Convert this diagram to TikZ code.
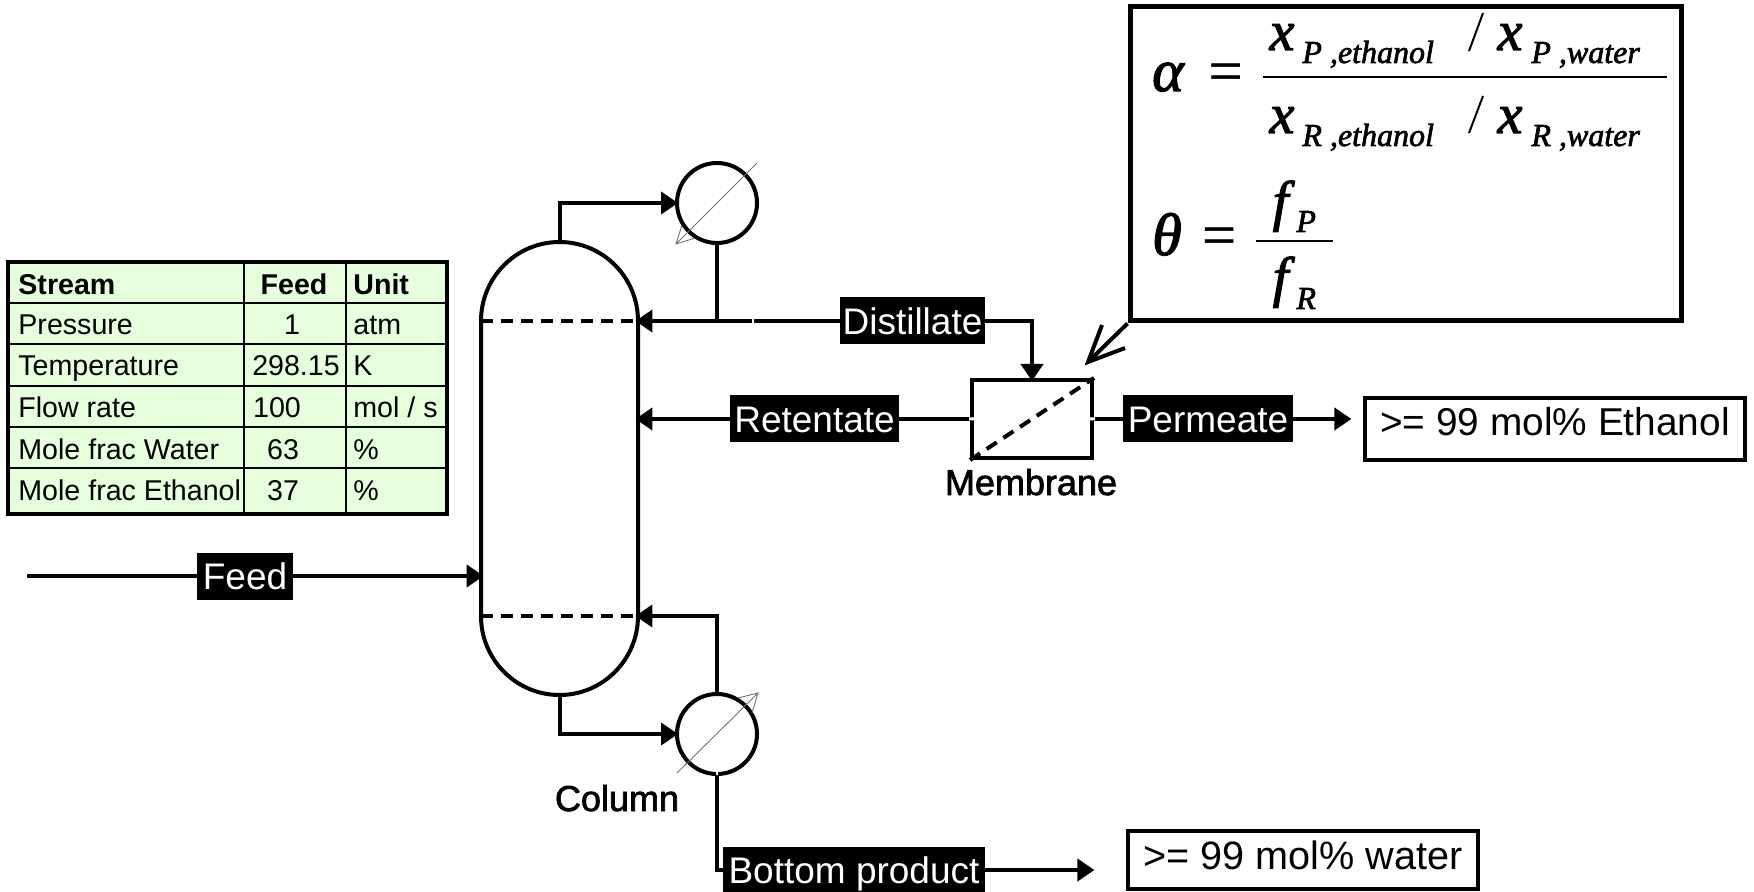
\documentclass[tikz,border=0pt]{standalone}
\usepackage{fontspec}
\setmainfont{Liberation Sans}
\newfontfamily\fbold[FakeBold=2]{Liberation Sans}
\newfontfamily\serifit[ItalicFeatures={FakeBold=2}]{Liberation Serif}
\newfontfamily\serifrm[FakeBold=1]{Liberation Serif}
\usetikzlibrary{arrows.meta,calc}
\definecolor{tablegreen}{HTML}{E6FFDC}
\tikzset{
  pline/.style={line width=2pt,line join=miter},
  flow/.style={pline,shorten >=-1.5pt,-{Triangle[length=8.5pt,width=11pt]}},
  stream/.style={fill=black,text=white,inner sep=0pt,minimum height=23.5pt,text height=18.5pt,text depth=5pt,font=\fontsize{18.5pt}{20pt}\selectfont},
  cell/.style={anchor=base west,inner sep=0pt,font=\fontsize{14.3pt}{17pt}\selectfont},
  cellc/.style={anchor=base,inner sep=0pt,font=\fontsize{14.3pt}{17pt}\selectfont},
  headcell/.style={font=\bfseries\fontsize{14.3pt}{17pt}\selectfont},
  hx/.style={circle,draw,line width=2pt,minimum size=40pt,inner sep=0pt},
  hxline/.style={line width=.45pt,draw=black!55},
  caption/.style={inner sep=0pt,anchor=base,font=\fbold\fontsize{18pt}{20pt}\selectfont},
  prodbox/.style={draw,line width=2pt,fill=white,inner sep=0pt},
  big/.style={anchor=base,inner sep=0pt,font=\serifit\itshape\fontsize{28pt}{31pt}\selectfont},
  subs/.style={anchor=base west,inner sep=0pt,font=\serifit\itshape\fontsize{16pt}{18pt}\selectfont},
  symb/.style={anchor=base,inner sep=0pt,font=\serifrm\fontsize{30pt}{32pt}\selectfont},
  fracbar/.style={line width=.8pt},
}
\begin{document}
\begin{tikzpicture}[x=.5pt,y=-.5pt]
\useasboundingbox (0,0) rectangle (1754,892);
% data table
\draw[fill=tablegreen,draw=none] (8,262) rectangle (447,514);
\draw[line width=1pt] (244,262)--(244,514) (346,262)--(346,514)
  (8,303)--(447,303) (8,344)--(447,344) (8,386)--(447,386) (8,427)--(447,427) (8,468)--(447,468);
\draw[line width=2pt] (8,262) rectangle (447,514);
\node[cell,headcell] (h1) at (18,295) {Stream};
\node[cellc,headcell] (h2) at (294,295) {Feed};
\node[cell,headcell] (h3) at (353,295) {Unit};
\node[cell] (a1) at (18,335) {Pressure};
\node[cellc] (a2) at (292,335) {1};
\node[cell] (a3) at (353,335) {atm};
\node[cell] (b1) at (18,376) {Temperature};
\node[cellc] (b2) at (296,376) {298.15};
\node[cell] (b3) at (353,376) {K};
\node[cell] (c1) at (18,418) {Flow rate};
\node[cellc] (c2) at (277,418) {100};
\node[cell] (c3) at (353,418) {mol / s};
\node[cell] (d1) at (18,459) {Mole frac Water};
\node[cellc] (d2) at (283,459) {63};
\node[cell] (d3) at (353,459) {\%};
\node[cell] (e1) at (18,500) {Mole frac Ethanol};
\node[cellc] (e2) at (283,500) {37};
\node[cell] (e3) at (353,500) {\%};
% column
\node[inner sep=0pt,minimum width=78.5pt,minimum height=226.5pt] (col) at (559.5,468.5) {};
\draw[pline] (481,321) arc[start angle=180,end angle=0,x radius=78.5,y radius=-79] -- (638,616)
  arc[start angle=0,end angle=-180,x radius=78.5,y radius=-79] -- cycle;
\draw[pline,dash pattern=on 6pt off 4pt] (481,321) -- (638,321);
\draw[pline,dash pattern=on 6pt off 4pt] (481,616) -- (638,616);
\node[caption] (collab) at (617,811) {Column};
% heat exchangers
\node[hx] (cond) at (717,203) {};
\node[hx] (reb) at (717,734) {};
\draw[hxline] (676,244) -- (757,163) (682,225) -- (676,244) -- (695,238);
\draw[hxline] (677,773) -- (758,693) (738,698) -- (758,693) -- (752,713);
% membrane
\node[draw,line width=2pt,inner sep=0pt,minimum width=60pt,minimum height=39pt] (mem) at (1032,419) {};
\draw[pline,dash pattern=on 6pt off 4pt] (mem.south west) -- (mem.north east);
\node[caption] (memlab) at (1031,495) {Membrane};
% stream labels
\node[stream,minimum width=72.5pt] (dist) at (912.5,321) {Distillate};
\node[stream,minimum width=84.5pt] (ret) at (814.5,419) {Retentate};
\node[stream,minimum width=85pt] (perm) at (1208,419) {Permeate};
\node[stream,minimum width=48pt] (feed) at (245,576) {Feed};
\node[stream,minimum width=131pt] (bot) at (854,870) {Bottom product};
% product boxes
\node[prodbox,minimum width=190pt,minimum height=31pt,text height=14pt,text depth=7pt,font=\fontsize{19.4pt}{21pt}\selectfont] (eth) at (1555,429) {>= 99 mol\% Ethanol};
\node[prodbox,minimum width=175pt,minimum height=29pt,text height=14pt,text depth=4.2pt,font=\fontsize{19.8pt}{21pt}\selectfont] (wat) at (1303,860) {>= 99 mol\% water};
% connectors
\coordinate (feedin) at (27,576);
\coordinate (junc) at (717,321);
\draw[pline] (feedin) -- (feed.west);
\draw[flow] (feed.east) -- (feed.east -| col.west);
\draw[flow] (col.north) |- (cond.west);
\draw[pline] (cond.south) -- (junc);
\draw[flow] (dist.west) -- (dist.west -| col.east);
\draw[flow] (dist.east) -| (mem.north);
\draw[pline] (mem.west) -- (ret.east);
\draw[flow] (ret.west) -- (ret.west -| col.east);
\draw[pline] (mem.east) -- (perm.west);
\draw[flow] (perm.east) -- ++(55,0);
\draw[flow] (reb.north) -- (reb.north |- 0,616) -- (col.east |- 0,616);
\draw[flow] (col.south) |- (reb.west);
\draw[line width=1.7pt] (reb.south) |- (bot.west);
\draw[flow] (bot.east) -- ++(106,0);
% small breaks in the lines
\fill[white] (969,417.5) rectangle (975,420.5) (1089,417.5) rectangle (1095,420.5) (752,319) rectangle (754,323) (716,771) rectangle (718,775);
% equation box
\node[draw,line width=2.5pt,inner sep=0pt,minimum width=275.5pt,minimum height=157pt] (eq) at (1405.5,164) {};
\coordinate (tip) at (1088,362);
\coordinate (wingb) at (1125,348);
\coordinate (winga) at (1102,325);
\draw[pline] (eq.south west) -- (tip) (wingb) -- (tip) -- (winga);
\node[symb] (alpha) at (1168,91) {\serifit\itshape α};
\node[symb] (eq1) at (1225.5,91) {=};
\draw[fracbar] (1263,77) -- (1667,77);
\node[big] (x1) at (1282,50) {x};
\node[subs] (s1) at (1302,63) {P ,ethanol};
\draw[line width=1pt] (1483,13) -- (1469,51);
\node[big] (x2) at (1510,50) {x};
\node[subs] (s2) at (1531,63) {P ,water};
\node[big] (x3) at (1282,133) {x};
\node[subs] (s3) at (1302,146) {R ,ethanol};
\draw[line width=1pt] (1483,96) -- (1469,133);
\node[big] (x4) at (1510,133) {x};
\node[subs] (s4) at (1531,146) {R ,water};
\node[symb] (theta) at (1167,255) {\serifit\itshape θ};
\node[symb] (eq2) at (1219,255) {=};
\draw[fracbar] (1256,241) -- (1333,241);
\node[big] (f1) at (1280.5,220) {f};
\node[subs] (s5) at (1296,232) {P};
\node[big] (f2) at (1280.5,296) {f};
\node[subs] (s6) at (1296,309) {R};
\end{tikzpicture}
\end{document}
